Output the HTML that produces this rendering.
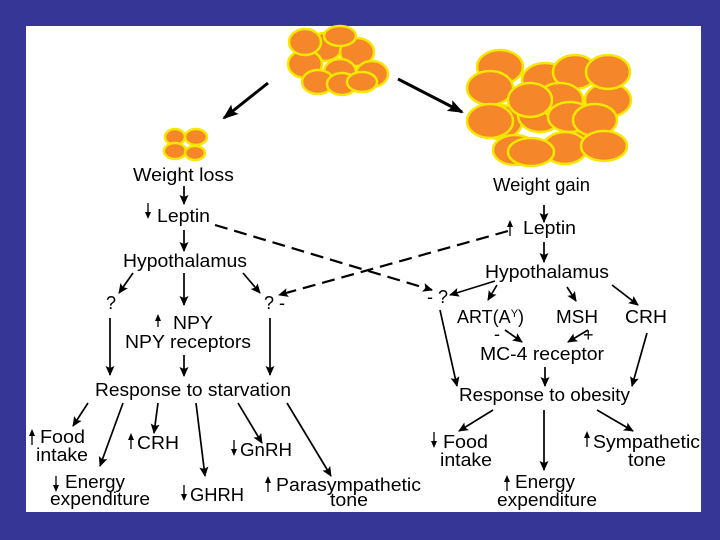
<!DOCTYPE html>
<html><head><meta charset="utf-8"><style>
html,body{margin:0;padding:0;background:#363697;}
svg{display:block}
text{font-family:"Liberation Sans",sans-serif;font-size:18px;fill:#000}
</style></head><body>
<svg width="720" height="540" viewBox="0 0 720 540" xmlns="http://www.w3.org/2000/svg">
<defs>
<marker id="ah" markerWidth="12" markerHeight="10" refX="9" refY="4.5" orient="auto" markerUnits="userSpaceOnUse"><path d="M0,0 L10,4.5 L0,9 L2,4.5 Z" fill="#000"/></marker>
<marker id="ahb" markerWidth="18" markerHeight="14" refX="14" refY="6" orient="auto" markerUnits="userSpaceOnUse"><path d="M0,0 L16,6 L0,12 L3,6 Z" fill="#000"/></marker>
</defs>
<rect x="0" y="0" width="720" height="540" fill="#363697"/>
<rect x="26" y="26" width="675" height="486" fill="#fff"/>
<g fill="#f5862a" stroke="#f5e800" stroke-width="2.5">
<ellipse cx="325" cy="47" rx="17" ry="14"/><ellipse cx="357" cy="52" rx="17" ry="14"/>
<ellipse cx="340" cy="72" rx="16" ry="13"/><ellipse cx="372" cy="74" rx="16" ry="13"/>
<ellipse cx="305" cy="64" rx="17" ry="14"/><ellipse cx="318" cy="82" rx="16" ry="12"/>
<ellipse cx="342" cy="84" rx="15" ry="11"/><ellipse cx="305" cy="42" rx="16" ry="13"/>
<ellipse cx="340" cy="36" rx="16" ry="10"/><ellipse cx="362" cy="82" rx="15" ry="10"/>
<ellipse cx="175" cy="137" rx="10" ry="8"/><ellipse cx="196" cy="137" rx="11" ry="8"/>
<ellipse cx="175" cy="151" rx="11" ry="8"/><ellipse cx="195" cy="153" rx="10" ry="7"/>
<ellipse cx="500" cy="67" rx="23" ry="17"/><ellipse cx="545" cy="80" rx="23" ry="17"/>
<ellipse cx="575" cy="72" rx="22" ry="17"/><ellipse cx="500" cy="122" rx="22" ry="17"/>
<ellipse cx="540" cy="115" rx="22" ry="17"/><ellipse cx="585" cy="130" rx="22" ry="17"/>
<ellipse cx="515" cy="150" rx="22" ry="15"/><ellipse cx="565" cy="148" rx="22" ry="16"/>
<ellipse cx="560" cy="100" rx="23" ry="17"/><ellipse cx="608" cy="100" rx="23" ry="17"/>
<ellipse cx="490" cy="88" rx="23" ry="17"/><ellipse cx="530" cy="100" rx="22" ry="17"/>
<ellipse cx="608" cy="72" rx="22" ry="17"/><ellipse cx="570" cy="117" rx="22" ry="15"/>
<ellipse cx="490" cy="121" rx="23" ry="17"/><ellipse cx="595" cy="120" rx="22" ry="16"/>
<ellipse cx="531" cy="152" rx="23" ry="14"/><ellipse cx="604" cy="146" rx="23" ry="15"/>
</g>
<g stroke="#000" fill="none">
<line x1="268" y1="83" x2="224" y2="118" stroke-width="3" marker-end="url(#ahb)"/>
<line x1="398" y1="79" x2="462" y2="112" stroke-width="3" marker-end="url(#ahb)"/>
<g stroke-width="1.7" marker-end="url(#ah)">
<line x1="184" y1="186" x2="184" y2="204"/>
<line x1="184" y1="230" x2="184" y2="251"/>
<line x1="133" y1="273" x2="119" y2="293"/>
<line x1="184" y1="273" x2="184" y2="305"/>
<line x1="243" y1="273" x2="260" y2="293"/>
<line x1="110" y1="318" x2="110" y2="375"/>
<line x1="184" y1="355" x2="184" y2="376"/>
<line x1="270" y1="318" x2="270" y2="375"/>
<line x1="88" y1="403" x2="73" y2="426"/>
<line x1="123" y1="403" x2="100" y2="466"/>
<line x1="158" y1="403" x2="154" y2="433"/>
<line x1="196" y1="403" x2="205" y2="476"/>
<line x1="238" y1="403" x2="262" y2="443"/>
<line x1="287" y1="403" x2="331" y2="476"/>
<line x1="544" y1="205" x2="544" y2="222"/>
<line x1="544" y1="242" x2="544" y2="262"/>
<line x1="495" y1="281" x2="450" y2="295"/>
<line x1="497" y1="285" x2="488" y2="300"/>
<line x1="567" y1="287" x2="576" y2="301"/>
<line x1="612" y1="285" x2="638" y2="305"/>
<line x1="505" y1="330" x2="522" y2="342"/>
<line x1="588" y1="330" x2="568" y2="342"/>
<line x1="440" y1="310" x2="457" y2="386"/>
<line x1="545" y1="367" x2="545" y2="386"/>
<line x1="647" y1="333" x2="632" y2="386"/>
<line x1="493" y1="410" x2="459" y2="431"/>
<line x1="544" y1="410" x2="544" y2="470"/>
<line x1="597" y1="410" x2="633" y2="431"/>
</g>
<g stroke-width="2.2" stroke-dasharray="13,7" marker-end="url(#ah)">
<line x1="215" y1="225" x2="432" y2="290"/>
<line x1="508" y1="231" x2="279" y2="295"/>
</g>
<g stroke-width="1.3">
<path d="M148 203V216M510 223V236M158 317V327M32 432V445M131 436V449M234 440V453M56 476V489M184 485V498M268 479V492M434 432V445M587 434V447M507 478V491"/>
</g>
</g>
<g fill="#000">
<path d="M145 212L148 219L151 212Z"/>
<path d="M507 227L510 220L513 227Z"/>
<path d="M155 321L158 314L161 321Z"/>
<path d="M29 436L32 429L35 436Z"/>
<path d="M128 440L131 433L134 440Z"/>
<path d="M231 449L234 456L237 449Z"/>
<path d="M53 485L56 492L59 485Z"/>
<path d="M181 494L184 501L187 494Z"/>
<path d="M265 483L268 476L271 483Z"/>
<path d="M431 441L434 448L437 441Z"/>
<path d="M584 438L587 431L590 438Z"/>
<path d="M504 482L507 475L510 482Z"/>
</g>
<g>
<text x="133" y="181" textLength="101" lengthAdjust="spacingAndGlyphs">Weight loss</text>
<text x="157" y="222" textLength="53" lengthAdjust="spacingAndGlyphs">Leptin</text>
<text x="123" y="267" textLength="124" lengthAdjust="spacingAndGlyphs">Hypothalamus</text>
<text x="106" y="309">?</text>
<text x="264" y="309">? -</text>
<text x="173" y="329" textLength="40" lengthAdjust="spacingAndGlyphs">NPY</text>
<text x="125" y="348" textLength="126" lengthAdjust="spacingAndGlyphs">NPY receptors</text>
<text x="95" y="396" textLength="196" lengthAdjust="spacingAndGlyphs">Response to starvation</text>
<text x="40" y="443" textLength="45" lengthAdjust="spacingAndGlyphs">Food</text>
<text x="36" y="461" textLength="52" lengthAdjust="spacingAndGlyphs">intake</text>
<text x="137" y="449" textLength="42" lengthAdjust="spacingAndGlyphs">CRH</text>
<text x="240" y="456" textLength="52" lengthAdjust="spacingAndGlyphs">GnRH</text>
<text x="65" y="488" textLength="60" lengthAdjust="spacingAndGlyphs">Energy</text>
<text x="50" y="505" textLength="100" lengthAdjust="spacingAndGlyphs">expenditure</text>
<text x="190" y="501" textLength="54" lengthAdjust="spacingAndGlyphs">GHRH</text>
<text x="276" y="491" textLength="145" lengthAdjust="spacingAndGlyphs">Parasympathetic</text>
<text x="330" y="506" textLength="38" lengthAdjust="spacingAndGlyphs">tone</text>
<text x="493" y="191" textLength="97" lengthAdjust="spacingAndGlyphs">Weight gain</text>
<text x="523" y="234" textLength="53" lengthAdjust="spacingAndGlyphs">Leptin</text>
<text x="485" y="278" textLength="124" lengthAdjust="spacingAndGlyphs">Hypothalamus</text>
<text x="427" y="303">- ?</text>
<text x="457" y="323">ART(A<tspan font-size="11" dy="-6">Y</tspan><tspan dy="6">)</tspan></text>
<text x="556" y="323" textLength="42" lengthAdjust="spacingAndGlyphs">MSH</text>
<text x="625" y="323" textLength="42" lengthAdjust="spacingAndGlyphs">CRH</text>
<text x="494" y="340">-</text>
<text x="583" y="341">+</text>
<text x="480" y="360" textLength="124" lengthAdjust="spacingAndGlyphs">MC-4 receptor</text>
<text x="459" y="401" textLength="171" lengthAdjust="spacingAndGlyphs">Response to obesity</text>
<text x="443" y="448" textLength="45" lengthAdjust="spacingAndGlyphs">Food</text>
<text x="440" y="466" textLength="52" lengthAdjust="spacingAndGlyphs">intake</text>
<text x="593" y="448" textLength="107" lengthAdjust="spacingAndGlyphs">Sympathetic</text>
<text x="628" y="466" textLength="38" lengthAdjust="spacingAndGlyphs">tone</text>
<text x="515" y="488" textLength="60" lengthAdjust="spacingAndGlyphs">Energy</text>
<text x="497" y="506" textLength="100" lengthAdjust="spacingAndGlyphs">expenditure</text>
</g>
</svg>
</body></html>
